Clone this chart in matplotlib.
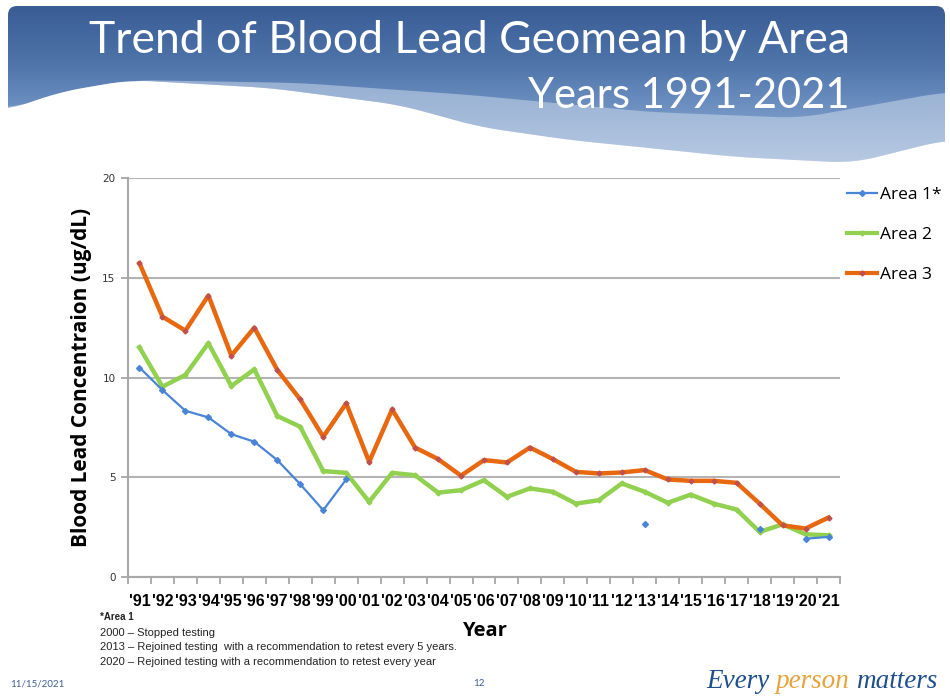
import matplotlib
matplotlib.use("Agg")
import matplotlib.pyplot as plt
import numpy as np
from matplotlib.lines import Line2D
from matplotlib.colors import LinearSegmentedColormap
from matplotlib.patches import FancyBboxPatch, Polygon
from matplotlib.ticker import FixedLocator

# ---------------- data ----------------
years = ["'91", "'92", "'93", "'94", "'95", "'96", "'97", "'98", "'99", "'00",
         "'01", "'02", "'03", "'04", "'05", "'06", "'07", "'08", "'09", "'10",
         "'11", "'12", "'13", "'14", "'15", "'16", "'17", "'18", "'19", "'20", "'21"]
area1 = [10.5, 9.37, 8.33, 8.0, 7.16, 6.78, 5.86, 4.65, 3.35, 4.89,
         None, None, None, None, None, None, None, None, None, None,
         None, None, 2.64, None, None, None, None, 2.43, None, 1.92, 2.01]
area2 = [11.51, 9.54, 10.13, 11.72, 9.57, 10.41, 8.07, 7.53, 5.31, 5.22,
         3.77, 5.22, 5.10, 4.23, 4.35, 4.85, 4.02, 4.44, 4.27, 3.68,
         3.85, 4.69, 4.27, 3.72, 4.13, 3.68, 3.38, 2.26, 2.64, 2.14, 2.09]
area3 = [15.73, 13.05, 12.35, 14.11, 11.10, 12.50, 10.38, 8.90, 7.03, 8.70,
         5.77, 8.40, 6.49, 5.91, 5.08, 5.86, 5.74, 6.49, 5.91, 5.27,
         5.19, 5.24, 5.36, 4.89, 4.82, 4.82, 4.72, 3.68, 2.59, 2.43, 2.98]
series_names = ["Area 1*", "Area 2", "Area 3"]
yticks = [0, 5, 10, 15, 20]
title_lines = ["Trend of Blood Lead Geomean by Area", "Years 1991-2021"]
notes = ["*Area 1", "2000 \u2013 Stopped testing",
         "2013 \u2013 Rejoined testing  with a recommendation to retest every 5 years.",
         "2020 \u2013 Rejoined testing with a recommendation to retest every year"]

C1, C2, C3 = "#4a84d6", "#92d050", "#e8680f"
narrow = ["Liberation Sans Narrow", "Liberation Sans", "DejaVu Sans"]

W, H = 950, 698
fig = plt.figure(figsize=(W / 100, H / 100), dpi=100)
fig.patch.set_facecolor("white")

# ---------------- banner (decoration) ----------------
bg = fig.add_axes([0, 0, 1, 1], zorder=0)
bg.set_xlim(0, W)
bg.set_ylim(H, 0)
bg.axis("off")
grad = np.linspace(0, 1, 256).reshape(-1, 1)
cmap = LinearSegmentedColormap.from_list(
    "b", [(0, "#395c94"), (0.35, "#4e74aa"), (0.65, "#7294c4"), (1.0, "#a9bfdc")])
im = bg.imshow(grad, cmap=cmap, extent=[8, 945, 170, 6], aspect="auto", zorder=1)
clip = FancyBboxPatch((8, 6), 937, 164, boxstyle="round,pad=0,rounding_size=9",
                      transform=bg.transData, facecolor="none", edgecolor="none")
bg.add_patch(clip)
im.set_clip_path(clip)


def smooth(xk, yk, xs):
    y = np.interp(xs, xk, yk)
    k = np.ones(21) / 21
    yp = np.concatenate([np.full(10, y[0]), y, np.full(10, y[-1])])
    return np.convolve(yp, k, mode="valid")


xs = np.linspace(8, 945, 400)
upper = smooth([8, 130, 300, 470, 650, 800, 945], [108, 80, 83, 95, 112, 118, 92], xs)
lower = smooth([8, 60, 130, 270, 400, 480, 570, 737, 853, 945],
               [110, 92, 80, 88, 105, 127, 140, 157, 163, 140], xs)
band = np.column_stack([np.r_[xs, xs[::-1]], np.r_[upper, lower[::-1]]])
bg.add_patch(Polygon(band, closed=True, facecolor="#c9d7ea", edgecolor="none", alpha=0.55, zorder=2))
white = np.column_stack([np.r_[0, xs, 950, 950, 0], np.r_[lower[0], lower, lower[-1], 200, 200]])
bg.add_patch(Polygon(white, closed=True, facecolor="white", edgecolor="none", zorder=3))

fig.text(850 / W, 1 - 53 / H, title_lines[0], ha="right", va="baseline", color="white",
         fontsize=32, family=["Lato", "DejaVu Sans"], zorder=5)
fig.text(850 / W, 1 - 108 / H, title_lines[1], ha="right", va="baseline", color="white",
         fontsize=30, family=["Lato", "DejaVu Sans"], zorder=5)

# ---------------- chart ----------------
ax = fig.add_axes([128 / W, 1 - 577 / H, (840 - 128) / W, (577 - 178) / H], zorder=2)
ax.set_facecolor("none")
x = np.arange(len(years))


def arr(v):
    return np.array([np.nan if a is None else a for a in v], dtype=float)


ax.plot(x, arr(area1), color=C1, lw=1.6, marker="D", ms=3, label=series_names[0], zorder=5)
ax.plot(x, arr(area2), color=C2, lw=3.2, marker="D", ms=2.5, label=series_names[1], zorder=4)
ax.plot(x, arr(area3), color=C3, lw=3.2, marker="D", ms=2.5, mfc="#c0504d", mec="#c0504d",
        label=series_names[2], zorder=4)

ax.set_xlim(-0.5, len(years) - 0.5)
ax.set_ylim(0, 20)
ax.set_yticks(yticks)
ax.set_yticklabels([str(v) for v in yticks], fontsize=7.5, color="#333333")
ax.set_xticks(x)
ax.set_xticklabels(years, fontsize=11.5, fontweight="bold", family=["Liberation Sans", "DejaVu Sans"])
ax.xaxis.set_minor_locator(FixedLocator(np.arange(-0.5, len(years), 1.0)))
ax.tick_params(axis="x", which="major", length=0, pad=12)
ax.tick_params(axis="x", which="minor", length=5, color="#a0a0a0", width=1.2)
ax.tick_params(axis="y", length=5, color="#a0a0a0", width=1.2, pad=4)
ax.grid(axis="y", color="#b4b4b4", lw=1.5)
ax.set_axisbelow(True)
for s in ["top", "right"]:
    ax.spines[s].set_visible(False)
for s in ["left", "bottom"]:
    ax.spines[s].set_color("#a8a8a8")
    ax.spines[s].set_linewidth(1.5)

ax.set_ylabel("Blood Lead Concentraion (ug/dL)", fontsize=15, fontweight="bold",
              family=["Open Sans", "DejaVu Sans"])
ax.yaxis.set_label_coords((92 - 128) / (840 - 128), 0.5)
fig.text(484 / W, 1 - 631 / H, "Year", fontsize=14.5, fontweight="bold", ha="center", va="center",
         family=["Open Sans", "DejaVu Sans"])

handles = [Line2D([], [], color=C1, lw=1.6, marker="D", ms=3),
           Line2D([], [], color=C2, lw=3, marker="D", ms=2.5),
           Line2D([], [], color=C3, lw=3, marker="D", ms=2.5, mfc="#c0504d", mec="#c0504d")]
fig.legend(handles, series_names, loc="upper left", bbox_to_anchor=(840 / W, 1 - 180 / H),
           frameon=False, handlelength=1.75, handletextpad=0.15, labelspacing=1.38,
           borderaxespad=0, prop={"family": ["Open Sans", "DejaVu Sans"], "size": 12.5})

# ---------------- notes / footer ----------------
note_y = [617, 633, 647, 662]
for i, (t, yy) in enumerate(zip(notes, note_y)):
    fig.text(100 / W, 1 - yy / H, t, fontsize=8.0 if i else 7.0, ha="left", va="center",
             family=narrow, fontweight="bold" if i == 0 else "normal", color="#222222")

fig.text(10 / W, 1 - 684 / H, "11/15/2021", fontsize=7, color="#3a5e96", va="center",
         family=["Lato", "DejaVu Sans"])
fig.text(479 / W, 1 - 684 / H, "12", fontsize=7, color="#3a5e96", va="center", ha="center",
         family=["Lato", "DejaVu Sans"])
logo_font = dict(fontsize=19.5, style="italic", family=["Liberation Serif", "DejaVu Serif"], va="center")
t1 = fig.text(706 / W, 1 - 681 / H, "Every ", color="#1f4e8c", **logo_font)
fig.canvas.draw()
r = fig.canvas.get_renderer()
bb = t1.get_window_extent(r)
t2 = fig.text(bb.x1 / W, 1 - 681 / H, "person ", color="#e8a33a", **logo_font)
bb2 = t2.get_window_extent(r)
fig.text(bb2.x1 / W, 1 - 681 / H, "matters", color="#1f4e8c", **logo_font)

fig.savefig("out.png", dpi=100, facecolor="white")
